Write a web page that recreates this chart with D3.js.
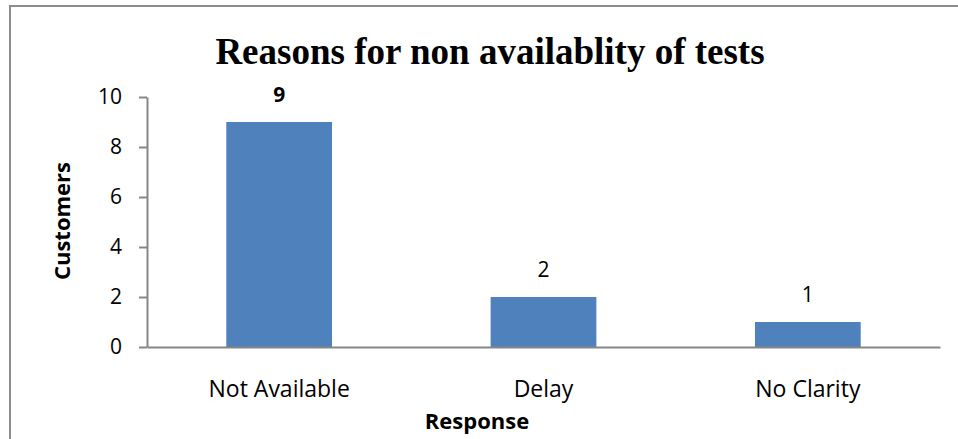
<!DOCTYPE html>
<html><head><meta charset="utf-8">
<script src="https://cdn.jsdelivr.net/npm/d3@7"></script>
<style>body{margin:0;background:#fff;}svg{display:block;}</style>
</head><body>
<svg id="c" width="958" height="439"></svg>
<script>
const title = "Reasons for non availablity of tests";
const categories = ["Not Available", "Delay", "No Clarity"];
const values = [9, 2, 1];
const boldLabels = [true, false, false];
const yTicks = [0, 2, 4, 6, 8, 10];
const yTitle = "Customers";
const xTitle = "Response";

const svg = d3.select("#c");
const font = "'Open Sans', sans-serif";
const m = {left:147, right:940, top:97, bottom:347};

// border
svg.append("path").attr("d","M10,439 V6 H958").attr("fill","none").attr("stroke","#8c8c8c").attr("stroke-width",2);

const x = d3.scaleBand().domain(categories).range([m.left, m.right]).padding(0);
const y = d3.scaleLinear().domain([0,10]).range([m.bottom, m.top]);
const bw = x.bandwidth()*0.4;

svg.append("text").attr("x",490).attr("y",64).attr("text-anchor","middle")
  .attr("font-family","'Liberation Serif','Times New Roman',serif").attr("font-weight","bold")
  .attr("font-size",37).text(title);

// y axis
const ya = svg.append("g").attr("transform",`translate(${m.left},0)`)
  .call(d3.axisLeft(y).tickValues(yTicks).tickSize(8).tickPadding(17).tickSizeOuter(0));
ya.select(".domain").attr("stroke","#868686").attr("stroke-width",2);
ya.selectAll(".tick line").attr("stroke","#868686").attr("stroke-width",2);
ya.selectAll(".tick text").attr("font-family",font).attr("font-size",21).attr("fill","#000");

// bars
svg.selectAll("rect.bar").data(values).join("rect").attr("class","bar")
  .attr("x",(d,i)=>x(categories[i])+x.bandwidth()/2-bw/2)
  .attr("y",d=>y(d)).attr("width",bw).attr("height",d=>y(0)-y(d))
  .attr("fill","#4F81BD");

// x axis
const xa = svg.append("g").attr("transform",`translate(0,${m.bottom})`)
  .call(d3.axisBottom(x).tickSize(0).tickPadding(34).tickSizeOuter(0));
xa.select(".domain").attr("stroke","#868686").attr("stroke-width",2);
xa.selectAll(".tick text").attr("font-family",font).attr("font-size",23).attr("fill","#000");

// data labels
svg.selectAll("text.lab").data(values).join("text").attr("class","lab")
  .attr("x",(d,i)=>x(categories[i])+x.bandwidth()/2)
  .attr("y",d=>y(d)-20).attr("text-anchor","middle")
  .attr("font-family",font).attr("font-size",21)
  .attr("font-weight",(d,i)=>boldLabels[i]?"bold":"normal").text(d=>d);

svg.append("text").attr("transform","translate(70,221) rotate(-90)").attr("text-anchor","middle")
  .attr("font-family",font).attr("font-weight","bold").attr("font-size",22).text(yTitle);
svg.append("text").attr("x",477).attr("y",429).attr("text-anchor","middle")
  .attr("font-family",font).attr("font-weight","bold").attr("font-size",22).text(xTitle);
</script>
</body></html>
